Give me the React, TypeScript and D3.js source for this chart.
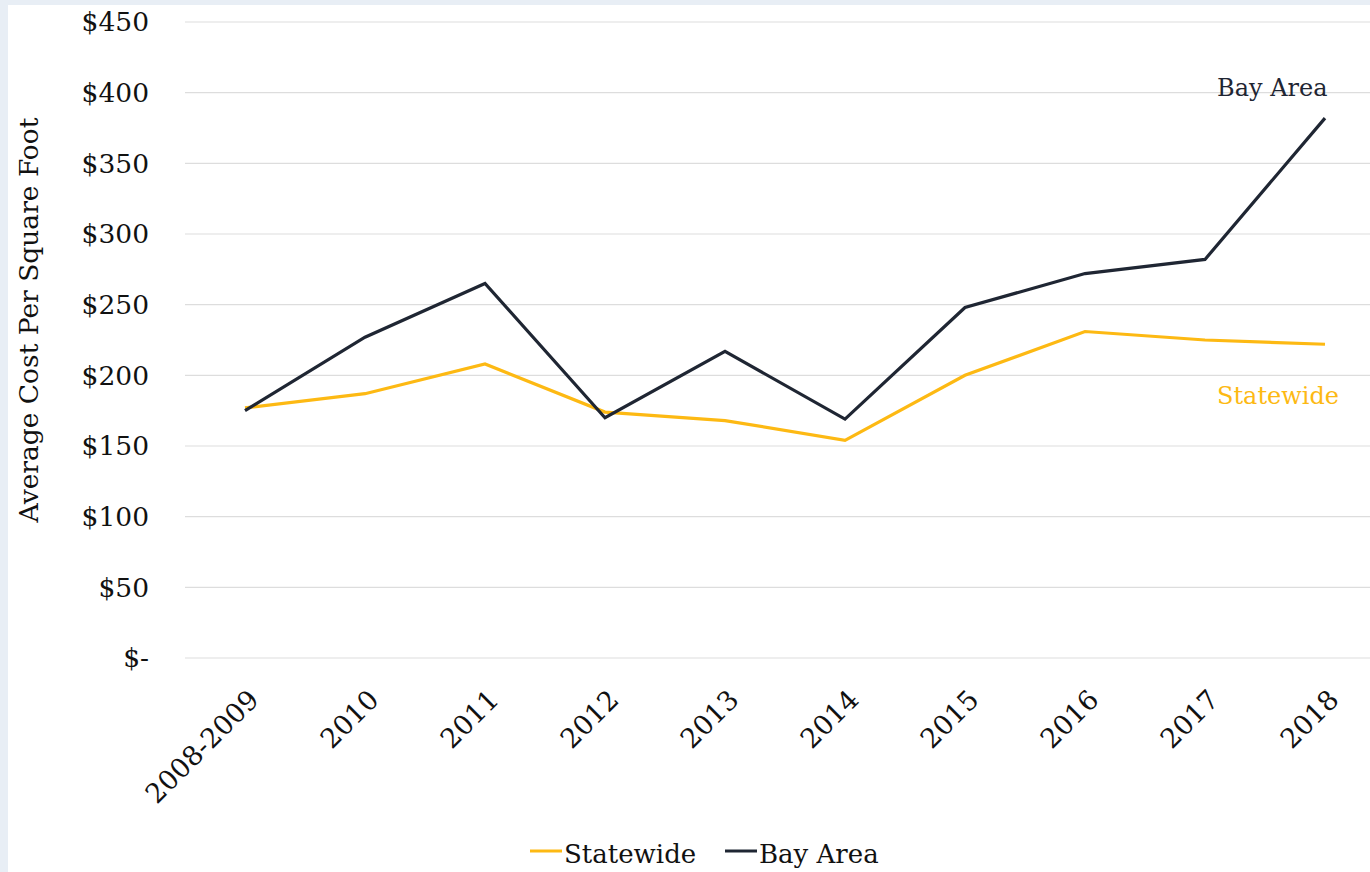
import { useEffect, useRef } from "react";
import * as d3 from "d3";

const years = ["2008-2009", "2010", "2011", "2012", "2013", "2014", "2015", "2016", "2017", "2018"];
const statewide = [177, 187, 208, 174, 168, 154, 200, 231, 225, 222];
const bayArea = [175, 227, 265, 170, 217, 169, 248, 272, 282, 382];
const yTicks = [0, 50, 100, 150, 200, 250, 300, 350, 400, 450];

const YELLOW = "#fdb913";
const DARK = "#1f2633";
const FONT = "'DejaVu Serif', serif";

const App = () => {
  const svgRef = useRef<SVGSVGElement | null>(null);

  useEffect(() => {
    const svg = d3.select(svgRef.current);
    svg.selectAll("*").remove();

    const width = 1370;
    const height = 872;

    svg.append("rect").attr("width", width).attr("height", height).attr("fill", "#e8eef5");
    svg.append("rect").attr("x", 8).attr("y", 5).attr("width", width - 8).attr("height", height - 5).attr("fill", "#fff");

    const x = d3.scalePoint().domain(years).range([245, 1325]);
    const y = d3.scaleLinear().domain([0, 450]).range([658, 22]);

    // grid
    svg
      .append("g")
      .selectAll("line")
      .data(yTicks)
      .enter()
      .append("line")
      .attr("x1", 185)
      .attr("x2", width)
      .attr("y1", (d) => y(d))
      .attr("y2", (d) => y(d))
      .attr("stroke", "#dddddd")
      .attr("stroke-width", 1.2);

    svg
      .append("g")
      .selectAll("text")
      .data(yTicks)
      .enter()
      .append("text")
      .attr("x", 149)
      .attr("y", (d) => y(d))
      .attr("dy", "0.35em")
      .attr("text-anchor", "end")
      .attr("font-family", FONT)
      .attr("font-size", 26.5)
      .attr("fill", "#111")
      .text((d) => (d === 0 ? "$-" : `$${d}`));

    svg
      .append("text")
      .attr("transform", `translate(38,${(y(0) + y(450)) / 2 - 20}) rotate(-90)`)
      .attr("text-anchor", "middle")
      .attr("font-family", FONT)
      .attr("font-size", 26.5)
      .attr("fill", "#111")
      .text("Average Cost Per Square Foot");

    svg
      .append("g")
      .selectAll("text")
      .data(years)
      .enter()
      .append("text")
      .attr("transform", (d) => `translate(${(x(d) || 0) + 2},${688}) rotate(-45)`)
      .attr("text-anchor", "end")
      .attr("dy", "0.7em")
      .attr("font-family", FONT)
      .attr("font-size", 27)
      .attr("fill", "#111")
      .text((d) => d);

    const line = d3
      .line<number>()
      .x((_, i) => x(years[i]) || 0)
      .y((d) => y(d));

    svg
      .append("path")
      .datum(statewide)
      .attr("d", line)
      .attr("fill", "none")
      .attr("stroke", YELLOW)
      .attr("stroke-width", 3.2);

    svg
      .append("path")
      .datum(bayArea)
      .attr("d", line)
      .attr("fill", "none")
      .attr("stroke", DARK)
      .attr("stroke-width", 3.2);

    // end labels
    svg
      .append("text")
      .attr("x", 1217)
      .attr("y", 96)
      .attr("font-family", FONT)
      .attr("font-size", 24)
      .attr("fill", DARK)
      .text("Bay Area");

    svg
      .append("text")
      .attr("x", 1217)
      .attr("y", 404)
      .attr("font-family", FONT)
      .attr("font-size", 24)
      .attr("fill", YELLOW)
      .text("Statewide");

    // legend
    const legend = [
      { name: "Statewide", color: YELLOW, x: 530 },
      { name: "Bay Area", color: DARK, x: 725 },
    ];
    const lg = svg.append("g").selectAll("g").data(legend).enter().append("g");
    lg.append("line")
      .attr("x1", (d) => d.x)
      .attr("x2", (d) => d.x + 32)
      .attr("y1", 851)
      .attr("y2", 851)
      .attr("stroke", (d) => d.color)
      .attr("stroke-width", 3);
    lg.append("text")
      .attr("x", (d) => d.x + 34)
      .attr("y", 863)
      .attr("font-family", FONT)
      .attr("font-size", 26)
      .attr("fill", "#111")
      .text((d) => d.name);
  }, []);

  return (
    <svg
      ref={svgRef}
      width={1370}
      height={872}
      style={{ position: "absolute", left: 0, top: 0 }}
    />
  );
};

export default App;
